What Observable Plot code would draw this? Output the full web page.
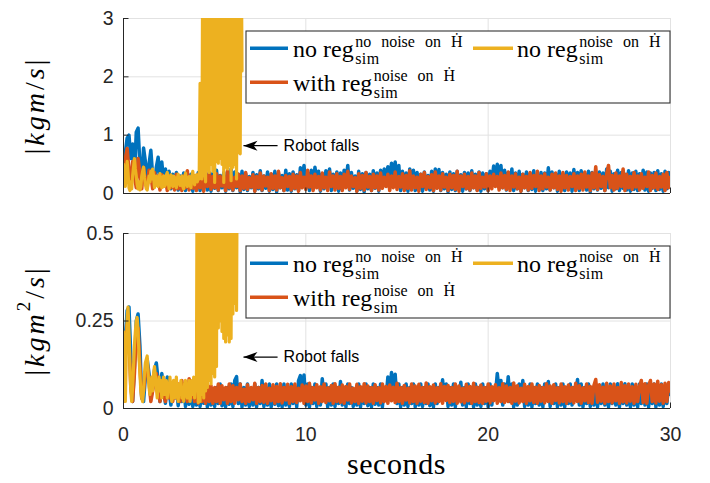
<!DOCTYPE html>
<html>
<head>
<meta charset="utf-8">
<script src="https://cdn.jsdelivr.net/npm/d3@7"></script>
<script src="https://cdn.jsdelivr.net/npm/@observablehq/plot@0.6"></script>
<style>
  html, body { margin: 0; background: #fff; }
  #fig { position: relative; width: 710px; height: 483px; overflow: hidden; background: #fff; }
  .panel { position: absolute; left: 0; width: 710px; }
  .panel > svg { position: absolute; left: 0; top: 0; }
</style>
</head>
<body>
<div id="fig"></div>
<script>
// Sampling intervals (seconds): the regularised / noise-free runs are logged at 10 Hz,
// the unregularised noisy run (which falls) at 20 Hz
const sampleStep = 0.1;
const fallRunStep = 0.05;

// Axis ticks
const xTicks = [0, 10, 20, 30];
const topYTicks = [0, 1, 2, 3];
const topYTickLabels = ["0", "1", "2", "3"];
const bottomYTicks = [0, 0.25, 0.5];
const bottomYTickLabels = ["0", "0.25", "0.5"];

// Linear momentum norm |kgm/s|, 0 .. 30 s
const topNoRegNoNoise = [
  0.35,0.7,0.95,1.0,0.6,0.85,0.3,1.05,1.12,0.5,
  0.2,0.78,0.55,0.15,0.5,0.74,0.3,0.12,0.45,0.62,
  0.25,0.54,0.2,0.42,0.1,0.38,0.08,0.33,0.12,0.36,
  0.06,0.3,0.1,0.35,0.05,0.28,0.09,0.33,0.04,0.3,
  0.08,0.36,0.05,0.3,0.1,0.38,0.06,0.33,0.04,0.35,
  0.09,0.4,0.05,0.31,0.1,0.36,0.04,0.3,0.08,0.42,
  0.05,0.37,0.1,0.33,0.03,0.38,0.07,0.34,0.05,0.29,
  0.1,0.36,0.04,0.32,0.08,0.39,0.05,0.3,0.09,0.37,
  0.04,0.33,0.07,0.38,0.03,0.35,0.1,0.31,0.05,0.4,
  0.06,0.34,0.04,0.37,0.08,0.32,0.05,0.44,0.25,0.48,
  0.1,0.36,0.05,0.4,0.09,0.45,0.2,0.38,0.04,0.34,
  0.08,0.39,0.2,0.42,0.05,0.33,0.1,0.37,0.04,0.35,
  0.07,0.4,0.22,0.48,0.06,0.36,0.09,0.3,0.04,0.38,
  0.07,0.34,0.03,0.36,0.08,0.33,0.05,0.39,0.09,0.35,
  0.04,0.4,0.1,0.42,0.2,0.46,0.25,0.52,0.3,0.54,
  0.22,0.48,0.05,0.38,0.08,0.35,0.04,0.42,0.1,0.4,
  0.05,0.36,0.08,0.33,0.04,0.37,0.09,0.31,0.06,0.38,
  0.04,0.42,0.1,0.41,0.05,0.36,0.08,0.33,0.03,0.37,
  0.07,0.34,0.05,0.38,0.09,0.32,0.04,0.36,0.08,0.35,
  0.05,0.39,0.1,0.33,0.06,0.37,0.04,0.35,0.08,0.34,
  0.05,0.38,0.2,0.47,0.25,0.5,0.22,0.48,0.1,0.4,
  0.06,0.36,0.09,0.42,0.05,0.35,0.08,0.38,0.04,0.33,
  0.1,0.37,0.05,0.34,0.07,0.39,0.04,0.31,0.09,0.36,
  0.05,0.35,0.08,0.44,0.06,0.37,0.1,0.34,0.04,0.38,
  0.07,0.33,0.05,0.37,0.09,0.35,0.04,0.41,0.08,0.36,
  0.05,0.39,0.1,0.34,0.06,0.38,0.03,0.36,0.08,0.33,
  0.06,0.37,0.09,0.35,0.05,0.42,0.1,0.38,0.04,0.34,
  0.08,0.4,0.05,0.36,0.09,0.33,0.06,0.39,0.04,0.35,
  0.07,0.38,0.05,0.34,0.1,0.4,0.06,0.37,0.04,0.35,
  0.09,0.36,0.05,0.39,0.07,0.34,0.04,0.38,0.08,0.36,
  0.3
];
const topWithRegNoise = [
  0.3,0.6,0.77,0.4,0.12,0.55,0.3,0.1,0.6,0.35,
  0.08,0.45,0.2,0.1,0.4,0.3,0.08,0.36,0.15,0.3,
  0.06,0.32,0.12,0.28,0.05,0.3,0.1,0.26,0.06,0.33,
  0.08,0.27,0.05,0.3,0.1,0.39,0.06,0.28,0.09,0.3,
  0.05,0.33,0.1,0.27,0.04,0.31,0.12,0.36,0.07,0.29,
  0.1,0.34,0.06,0.3,0.13,0.27,0.05,0.38,0.1,0.31,
  0.06,0.28,0.12,0.33,0.05,0.3,0.09,0.36,0.07,0.27,
  0.11,0.32,0.04,0.29,0.1,0.35,0.06,0.3,0.13,0.28,
  0.05,0.34,0.09,0.3,0.06,0.38,0.1,0.27,0.05,0.31,
  0.12,0.29,0.06,0.33,0.09,0.3,0.04,0.36,0.1,0.28,
  0.07,0.4,0.11,0.3,0.05,0.33,0.1,0.29,0.06,0.35,
  0.1,0.28,0.05,0.37,0.12,0.3,0.06,0.34,0.09,0.29,
  0.05,0.33,0.1,0.38,0.07,0.3,0.12,0.27,0.04,0.34,
  0.09,0.31,0.06,0.36,0.11,0.29,0.05,0.33,0.1,0.3,
  0.06,0.35,0.09,0.28,0.12,0.33,0.05,0.3,0.1,0.37,
  0.07,0.29,0.11,0.34,0.05,0.31,0.09,0.39,0.06,0.3,
  0.1,0.28,0.04,0.33,0.12,0.36,0.07,0.29,0.1,0.32,
  0.05,0.37,0.09,0.3,0.06,0.34,0.11,0.28,0.05,0.33,
  0.1,0.31,0.07,0.38,0.04,0.3,0.12,0.33,0.08,0.29,
  0.06,0.35,0.1,0.3,0.05,0.36,0.09,0.28,0.11,0.34,
  0.05,0.3,0.08,0.33,0.12,0.29,0.06,0.35,0.1,0.31,
  0.07,0.37,0.05,0.3,0.11,0.34,0.08,0.28,0.04,0.33,
  0.1,0.29,0.06,0.36,0.09,0.31,0.12,0.38,0.05,0.3,
  0.08,0.34,0.11,0.28,0.06,0.33,0.1,0.35,0.07,0.3,
  0.04,0.36,0.1,0.31,0.06,0.29,0.12,0.34,0.05,0.3,
  0.09,0.33,0.06,0.37,0.11,0.3,0.05,0.35,0.1,0.46,
  0.07,0.32,0.12,0.29,0.05,0.34,0.48,0.1,0.31,0.06,
  0.35,0.09,0.3,0.12,0.42,0.05,0.33,0.1,0.29,0.07,
  0.36,0.11,0.3,0.06,0.34,0.09,0.28,0.12,0.37,0.05,
  0.31,0.1,0.35,0.07,0.29,0.11,0.33,0.05,0.36,0.1,
  0.28
];
// Without regularisation the robot falls at ~6.5 s; the record stops there (20 Hz)
const topNoRegNoise = [
  0.5,0.3,0.12,0.4,0.55,0.35,0.1,0.05,0.2,0.08,0.3,0.45,0.6,0.42,0.3,0.15,0.08,0.2,0.06,0.12,
  0.3,0.38,0.45,0.28,0.15,0.08,0.06,0.18,0.3,0.2,0.38,0.25,0.42,0.3,0.1,0.22,0.3,0.15,0.12,0.28,
  0.34,0.18,0.1,0.25,0.3,0.12,0.15,0.32,0.36,0.2,0.08,0.22,0.32,0.16,0.12,0.3,0.28,0.14,0.1,0.26,
  0.33,0.2,0.14,0.28,0.3,0.12,0.08,0.25,0.35,0.2,0.12,0.27,0.29,0.15,0.1,0.3,0.38,0.22,0.15,0.3,
  0.32,0.2,0.3,0.25,1.89,0.3,0.25,4.6,0.3,4.4,0.2,4.5,0.4,4.4,0.36,4.8,0.5,4.5,0.38,4.6,
  0.19,4.7,0.55,4.4,0.52,4.6,0.6,4.5,0.5,4.4,0.19,4.7,0.45,4.5,0.42,4.6,0.48,4.4,0.22,4.8,
  0.45,4.5,0.5,4.6,0.25,4.4,0.7,4.5,0.68,4.6,2.1
];

// Angular momentum norm |kgm^2/s|, 0 .. 30 s
const bottomNoRegNoNoise = [
  0.05,0.2,0.28,0.29,0.15,0.02,0.12,0.25,0.27,0.18,
  0.03,0.02,0.09,0.14,0.1,0.03,0.06,0.11,0.13,0.08,
  0.02,0.1,0.06,0.015,0.09,0.05,0.01,0.07,0.03,0.06,
  0.008,0.06,0.02,0.07,0.006,0.05,0.012,0.06,0.006,0.045,
  0.01,0.06,0.006,0.05,0.015,0.07,0.005,0.06,0.01,0.05,
  0.006,0.06,0.014,0.07,0.008,0.05,0.005,0.06,0.012,0.07,
  0.006,0.08,0.091,0.014,0.07,0.005,0.06,0.01,0.07,0.006,
  0.05,0.01,0.07,0.005,0.06,0.014,0.08,0.006,0.06,0.01,
  0.07,0.005,0.06,0.012,0.07,0.008,0.05,0.005,0.07,0.01,
  0.06,0.006,0.07,0.014,0.06,0.005,0.08,0.094,0.03,0.096,
  0.01,0.07,0.005,0.06,0.014,0.07,0.006,0.06,0.01,0.085,
  0.03,0.07,0.005,0.06,0.01,0.07,0.006,0.06,0.014,0.077,
  0.01,0.06,0.005,0.07,0.014,0.06,0.006,0.05,0.01,0.07,
  0.005,0.06,0.014,0.07,0.008,0.06,0.005,0.07,0.012,0.06,
  0.01,0.07,0.005,0.06,0.03,0.09,0.04,0.103,0.05,0.098,
  0.014,0.07,0.005,0.06,0.01,0.07,0.006,0.06,0.014,0.07,
  0.005,0.06,0.01,0.07,0.006,0.06,0.014,0.07,0.008,0.06,
  0.005,0.07,0.014,0.06,0.03,0.082,0.03,0.07,0.006,0.06,
  0.01,0.07,0.005,0.06,0.03,0.075,0.01,0.06,0.005,0.07,
  0.014,0.06,0.005,0.07,0.01,0.06,0.006,0.07,0.014,0.06,
  0.005,0.07,0.01,0.06,0.04,0.1,0.05,0.08,0.01,0.07,
  0.03,0.091,0.02,0.07,0.005,0.06,0.01,0.07,0.03,0.08,
  0.006,0.06,0.01,0.07,0.005,0.06,0.014,0.07,0.01,0.06,
  0.005,0.07,0.03,0.077,0.006,0.06,0.014,0.07,0.005,0.06,
  0.01,0.07,0.005,0.06,0.014,0.07,0.01,0.06,0.03,0.083,
  0.01,0.07,0.005,0.06,0.014,0.07,0.006,0.06,0.01,0.07,
  0.005,0.06,0.014,0.07,0.01,0.06,0.005,0.07,0.014,0.06,
  0.01,0.071,0.005,0.06,0.014,0.071,0.01,0.06,0.005,0.07,
  0.01,0.06,0.005,0.07,0.014,0.06,0.01,0.07,0.005,0.06,
  0.014,0.07,0.005,0.06,0.01,0.07,0.006,0.06,0.014,0.07,
  0.04
];
const bottomWithRegNoise = [
  0.02,0.15,0.24,0.2,0.06,0.02,0.1,0.21,0.23,0.12,
  0.03,0.05,0.1,0.13,0.08,0.02,0.05,0.09,0.1,0.06,
  0.02,0.07,0.04,0.02,0.06,0.03,0.07,0.02,0.06,0.03,
  0.07,0.02,0.08,0.03,0.06,0.02,0.085,0.03,0.07,0.02,
  0.06,0.015,0.065,0.02,0.06,0.015,0.07,0.02,0.065,0.015,
  0.06,0.02,0.07,0.015,0.065,0.025,0.06,0.015,0.07,0.02,
  0.065,0.015,0.06,0.025,0.07,0.02,0.055,0.015,0.068,0.02,
  0.06,0.025,0.072,0.015,0.06,0.02,0.066,0.018,0.07,0.015,
  0.058,0.022,0.068,0.015,0.063,0.02,0.071,0.016,0.06,0.024,
  0.069,0.015,0.062,0.02,0.07,0.017,0.058,0.022,0.067,0.015,
  0.064,0.02,0.072,0.016,0.06,0.024,0.068,0.015,0.062,0.02,
  0.07,0.017,0.059,0.022,0.066,0.015,0.071,0.02,0.061,0.018,
  0.067,0.015,0.063,0.024,0.07,0.016,0.058,0.02,0.069,0.015,
  0.062,0.021,0.071,0.016,0.064,0.02,0.06,0.015,0.068,0.023,
  0.059,0.016,0.07,0.02,0.063,0.015,0.067,0.022,0.061,0.017,
  0.072,0.02,0.06,0.015,0.066,0.024,0.058,0.016,0.07,0.02,
  0.064,0.015,0.069,0.021,0.06,0.017,0.073,0.015,0.062,0.022,
  0.067,0.016,0.059,0.02,0.071,0.015,0.063,0.023,0.066,0.017,
  0.06,0.021,0.07,0.015,0.064,0.019,0.058,0.016,0.069,0.022,
  0.063,0.015,0.072,0.02,0.061,0.017,0.067,0.015,0.06,0.021,
  0.07,0.016,0.062,0.022,0.068,0.015,0.059,0.02,0.071,0.017,
  0.064,0.02,0.06,0.015,0.073,0.021,0.065,0.016,0.058,0.02,
  0.069,0.015,0.063,0.022,0.07,0.017,0.061,0.015,0.066,0.021,
  0.06,0.016,0.071,0.02,0.064,0.015,0.068,0.023,0.059,0.016,
  0.07,0.02,0.062,0.015,0.067,0.021,0.06,0.016,0.072,0.02,
  0.065,0.015,0.059,0.022,0.07,0.017,0.063,0.015,0.066,0.083,
  0.018,0.068,0.021,0.061,0.015,0.072,0.02,0.064,0.016,0.07,
  0.022,0.06,0.015,0.074,0.019,0.065,0.016,0.07,0.021,0.062,
  0.015,0.069,0.02,0.063,0.08,0.017,0.071,0.015,0.066,0.08,
  0.02,0.07,0.016,0.078,0.021,0.068,0.015,0.072,0.02,0.074,
  0.05
];
const bottomNoRegNoise = [
  0.22,0.1,0.02,0.15,0.26,0.29,0.22,0.12,0.05,0.02,0.06,0.12,0.18,0.22,0.25,0.26,0.22,0.15,0.1,0.05,
  0.03,0.02,0.05,0.1,0.13,0.14,0.15,0.1,0.06,0.04,0.06,0.09,0.05,0.1,0.12,0.09,0.06,0.03,0.07,0.09,
  0.05,0.08,0.03,0.07,0.09,0.04,0.06,0.08,0.03,0.07,0.05,0.09,0.04,0.02,0.07,0.08,0.03,0.06,0.09,0.04,
  0.02,0.07,0.05,0.08,0.03,0.06,0.02,0.07,0.08,0.04,0.03,0.06,0.08,0.02,0.05,0.08,0.04,0.09,0.03,0.07,
  0.06,0.9,0.017,0.85,0.02,0.9,0.04,0.85,0.03,0.9,0.05,0.85,0.06,0.9,0.08,0.85,0.07,0.95,0.1,0.9,
  0.09,0.85,0.12,0.9,0.23,0.85,0.25,0.9,0.22,0.85,0.2,0.9,0.19,0.85,0.21,0.9,0.19,0.85,0.2,0.9,
  0.27,0.85,0.3,0.9,0.28,0.9
];

// MATLAB default line colours
const BLUE = "#0072BD", ORANGE = "#D95319", YELLOW = "#EDB120";
const AXIS = "#262626", GRID = "#e2e2e2";
const LINE_W = 3.5, FALL_LINE_W = 3.2;
const SERIF = "'Liberation Serif', 'Times New Roman', 'DejaVu Serif', serif";
const SANS = "'Liberation Sans', Arial, Helvetica, sans-serif";

const W = 710, ML = 123, MR = 40;

const rows = (values, step) => values.map((v, i) => ({t: i * step, v}));

// Filled "vback2" arrowhead pointing left, tip at the origin
const vback2 = {
  draw(context, size) {
    const r = Math.sqrt(size / Math.PI);
    context.moveTo(0, 0);
    context.lineTo(2 * r, -0.72 * r);
    context.lineTo(1.45 * r, 0);
    context.lineTo(2 * r, 0.72 * r);
    context.closePath();
  }
};

const legendItems = [
  {color: BLUE, base: "no reg", sup: "no noise on \u1E22", sub: "sim", col: 0, row: 0},
  {color: YELLOW, base: "no reg", sup: "noise on \u1E22", sub: "sim", col: 1, row: 0},
  {color: ORANGE, base: "with reg", sup: "noise on \u1E22", sub: "sim", col: 0, row: 1}
];
const legendCols = [{x1: 250, x2: 288, text: 293}, {x1: 473, x2: 513, text: 517}];
const legendRows = [57.3, 91.3];

function panel({top, height, marginTop, marginBottom, yDomain, yTicks, yTickLabels,
                blue, orange, yellow, showXLabels, fall, yLabel, xLabel}) {
  const plotW = W - ML - MR, plotH = height - marginTop - marginBottom;
  const tickLabel = new Map(yTicks.map((d, i) => [d, yTickLabels[i]]));
  const chart = Plot.plot({
    width: W, height, marginLeft: ML, marginRight: MR, marginTop, marginBottom,
    x: {domain: [0, 30], label: null, axis: null},
    y: {domain: yDomain, label: null, axis: null},
    style: {fontFamily: SANS, fontSize: "19.5px", color: AXIS, background: "transparent"},
    marks: [
      Plot.gridX(xTicks, {stroke: GRID, strokeOpacity: 1}),
      Plot.gridY(yTicks, {stroke: GRID, strokeOpacity: 1}),
      Plot.line(rows(blue, sampleStep), {x: "t", y: "v", stroke: BLUE, strokeWidth: LINE_W, clip: true}),
      Plot.line(rows(orange, sampleStep), {x: "t", y: "v", stroke: ORANGE, strokeWidth: LINE_W, clip: true}),
      Plot.line(rows(yellow, fallRunStep), {x: "t", y: "v", stroke: YELLOW, strokeWidth: FALL_LINE_W, clip: true}),
      Plot.ruleX([0], {stroke: AXIS, strokeWidth: 1}),
      Plot.ruleY([0], {stroke: AXIS, strokeWidth: 1}),
      Plot.tickX(xTicks, {x: d => d, stroke: AXIS, insetTop: plotH - 5.5}),
      Plot.tickY(yTicks, {y: d => d, stroke: AXIS, insetRight: plotW - 5.5}),
      Plot.axisY(yTicks, {tickSize: 0, tickPadding: 10, tickFormat: d => tickLabel.get(d), label: null}),
      showXLabels ? Plot.axisX(xTicks, {tickSize: 0, tickPadding: 19, tickFormat: d => String(d), label: null}) : null,
      Plot.link([fall], {x1: "tail", x2: "tip", y1: "y", y2: "y", stroke: "black", strokeWidth: 1.2}),
      Plot.dot([fall], {x: "tip", y: "y", symbol: vback2, r: 7, fill: "black", stroke: "none"}),
      Plot.text([fall], {x: "textX", y: "y", text: "label", textAnchor: "start", lineAnchor: "middle",
                         fontSize: 16, fill: "black", fontFamily: SANS})
    ]
  });

  const div = d3.select("#fig").append("div").attr("class", "panel")
    .style("top", `${top}px`).style("height", `${height}px`);
  div.node().appendChild(chart);

  // Overlay for the math-typeset labels and the legend box
  const svg = div.append("svg").attr("width", W).attr("height", height)
    .style("position", "absolute").style("left", "0").style("top", "0")
    .attr("font-family", SERIF).attr("fill", "#000");

  // rotated y label: |kgm/s| or |kgm^2/s|
  const yl = svg.append("text")
    .attr("transform", `translate(34,${marginTop + plotH / 2}) rotate(-90)`)
    .attr("text-anchor", "middle").attr("dominant-baseline", "central")
    .attr("font-size", 28).attr("letter-spacing", 3);
  yl.append("tspan").text("|");
  yl.append("tspan").attr("font-style", "italic").text("kgm");
  if (yLabel.power) {
    yl.append("tspan").attr("font-size", 19).attr("dy", -11).text(yLabel.power);
    yl.append("tspan").attr("dy", 11).text("/");
  } else {
    yl.append("tspan").text("/");
  }
  yl.append("tspan").attr("font-style", "italic").text("s");
  yl.append("tspan").text("|");

  if (xLabel) {
    svg.append("text").attr("x", ML + plotW / 2).attr("y", height - 9)
      .attr("text-anchor", "middle").attr("font-size", 30).attr("letter-spacing", 0.6)
      .text(xLabel);
  }

  // legend
  const lg = svg.append("g");
  lg.append("rect").attr("x", 246).attr("y", 31).attr("width", 424).attr("height", 72)
    .attr("fill", "white").attr("stroke", "#333").attr("stroke-width", 1.1);
  for (const item of legendItems) {
    const c = legendCols[item.col], baseline = legendRows[item.row];
    lg.append("line").attr("x1", c.x1).attr("x2", c.x2)
      .attr("y1", baseline - 9).attr("y2", baseline - 9)
      .attr("stroke", item.color).attr("stroke-width", 3.5);
    // base word, then superscript and subscript stacked after it (TeX style)
    const label = lg.append("text").attr("x", c.text).attr("y", baseline);
    const base = label.append("tspan").attr("font-size", 24).text(item.base);
    const sx = c.text + base.node().getComputedTextLength() + 1.5;
    label.append("tspan").attr("x", sx).attr("dy", -10.3)
      .attr("font-size", 16).attr("word-spacing", 6).text(item.sup);
    label.append("tspan").attr("x", sx).attr("dy", 16.8)
      .attr("font-size", 16).attr("letter-spacing", 0.4).text(item.sub);
  }
}

panel({
  top: 0, height: 215, marginTop: 18, marginBottom: 22,
  yDomain: [0, 3], yTicks: topYTicks, yTickLabels: topYTickLabels,
  blue: topNoRegNoNoise, orange: topWithRegNoise, yellow: topNoRegNoise,
  showXLabels: false,
  fall: {tip: 6.58, tail: 8.45, textX: 8.78, y: 0.82, label: "Robot falls"},
  yLabel: {power: null}, xLabel: null
});

panel({
  top: 215, height: 268, marginTop: 18, marginBottom: 75,
  yDomain: [0, 0.5], yTicks: bottomYTicks, yTickLabels: bottomYTickLabels,
  blue: bottomNoRegNoNoise, orange: bottomWithRegNoise, yellow: bottomNoRegNoise,
  showXLabels: true,
  fall: {tip: 6.58, tail: 8.45, textX: 8.78, y: 0.147, label: "Robot falls"},
  yLabel: {power: "2"}, xLabel: "seconds"
});
</script>
</body>
</html>
